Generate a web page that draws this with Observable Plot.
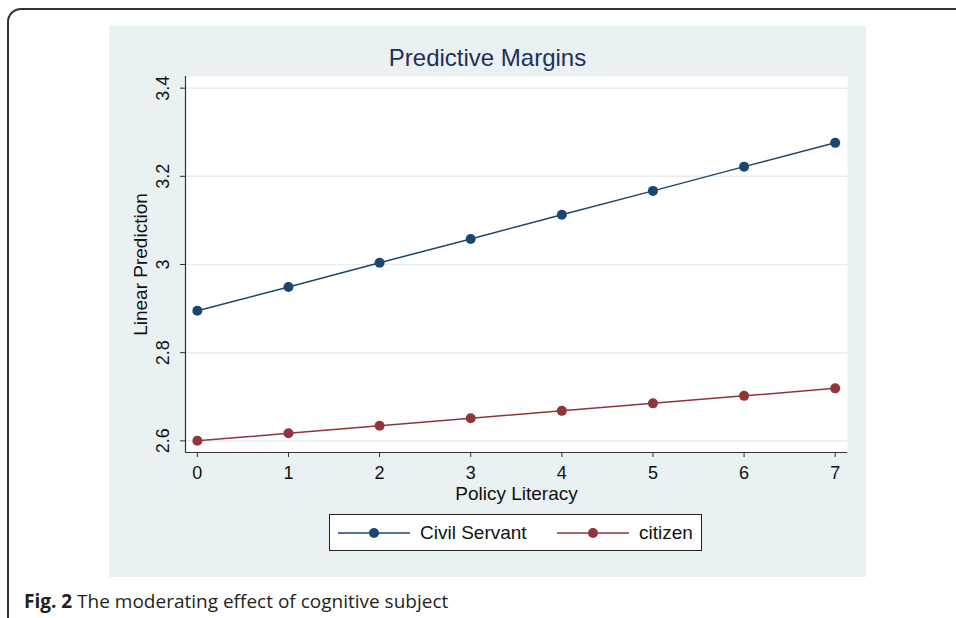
<!DOCTYPE html>
<html>
<head>
<meta charset="utf-8">
<script src="https://cdn.jsdelivr.net/npm/d3@7"></script>
<script src="https://cdn.jsdelivr.net/npm/@observablehq/plot@0.6"></script>
<style>
  html, body { margin: 0; padding: 0; background: #fff; width: 956px; height: 618px; overflow: hidden; }
  #frame { position: absolute; left: 7px; top: 8px; width: 1000px; height: 620px; border: 2px solid #333; border-radius: 14px; }
  #panel { position: absolute; left: 109px; top: 26px; width: 757px; height: 551px; background: #eaf1f3; }
  #title { position: absolute; left: 109px; width: 757px; top: 44px; text-align: center; font-family: "Liberation Sans", Arial, sans-serif; font-size: 24px; color: #1f2f5a; }
  #legend { position: absolute; left: 329px; top: 514px; width: 371px; height: 35px; background: #fff; border: 1px solid #222; font-family: "Liberation Sans", Arial, sans-serif; font-size: 19px; color: #111; }
  .item { position: absolute; top: 0; height: 35px; display: flex; align-items: center; }
  .item svg { margin-right: 10px; }
  #caption { position: absolute; left: 24px; top: 588px; line-height: 26px; font-family: "Open Sans", sans-serif; font-size: 19px; color: #231f20; white-space: nowrap; }
  #caption b { font-weight: 700; }
</style>
</head>
<body>
<div id="frame"></div>
<div id="panel"></div>
<div id="title"></div>
<div id="legend"></div>
<div id="caption"><b>Fig. 2</b> The moderating effect of cognitive subject</div>
<script>
// ---- data ----
const policyLiteracy = [0, 1, 2, 3, 4, 5, 6, 7];
const civilServant = [2.895, 2.949, 3.004, 3.058, 3.113, 3.167, 3.222, 3.276];
const citizen = [2.600, 2.617, 2.634, 2.651, 2.668, 2.685, 2.702, 2.719];
const seriesNames = ["Civil Servant", "citizen"];
const seriesColors = ["#1a476f", "#90353b"];
const xTicks = [0, 1, 2, 3, 4, 5, 6, 7];
const yTicks = [2.6, 2.8, 3.0, 3.2, 3.4];
const xDomain = [-0.13, 7.135];
const yDomain = [2.5735, 3.4265];
const titleText = "Predictive Margins";
const xLabel = "Policy Literacy";
const yLabel = "Linear Prediction";

const rows = [];
policyLiteracy.forEach((x, i) => {
  rows.push({x, y: civilServant[i], s: seriesNames[0]});
  rows.push({x, y: citizen[i], s: seriesNames[1]});
});

document.getElementById("title").textContent = titleText;

const font = "'Liberation Sans', Arial, sans-serif";
const chart = Plot.plot({
  width: 757,
  height: 551,
  marginLeft: 76,
  marginRight: 19,
  marginTop: 50,
  marginBottom: 125,
  style: {background: "transparent", fontFamily: font, color: "#111"},
  x: {domain: xDomain, axis: null},
  y: {domain: yDomain, axis: null},
  color: {domain: seriesNames, range: seriesColors},
  marks: [
    Plot.frame({fill: "white", stroke: null}),
    Plot.gridY(yTicks, {stroke: "#e6eef2", strokeOpacity: 1, strokeWidth: 1.5}),
    Plot.ruleX([xDomain[0]], {stroke: "#333", strokeWidth: 1.2}),
    Plot.ruleY([yDomain[0]], {stroke: "#333", strokeWidth: 1.2}),
    Plot.axisY(yTicks, {anchor: "left", tickSize: 5, tickFormat: () => "", label: null, stroke: "#333"}),
    Plot.text(yTicks, {y: d => d, frameAnchor: "left", rotate: -90, dx: -22.5, lineAnchor: "middle", textAnchor: "middle", text: d => d3.format("")(d), fontSize: 18, fill: "#111"}),
    Plot.axisX(xTicks, {anchor: "bottom", tickSize: 5, tickPadding: 9, fontSize: 18, label: null, stroke: "#333", fill: "#111"}),
    Plot.text([yLabel], {frameAnchor: "left", rotate: -90, dx: -45, lineAnchor: "middle", textAnchor: "middle", fontSize: 19, fill: "#111"}),
    Plot.text([xLabel], {frameAnchor: "bottom", dy: 47.5, lineAnchor: "bottom", textAnchor: "middle", fontSize: 19, fill: "#111"}),
    Plot.line(rows, {x: "x", y: "y", z: "s", stroke: "s", strokeWidth: 1.5}),
    Plot.dot(rows, {x: "x", y: "y", fill: "s", r: 5})
  ]
});
chart.style.position = "absolute";
chart.style.left = "109px";
chart.style.top = "26px";
document.body.appendChild(chart);

// legend
const legend = document.getElementById("legend");
const itemX = [8, 227];
seriesNames.forEach((name, i) => {
  const div = document.createElement("div");
  div.className = "item";
  div.style.left = itemX[i] + "px";
  const ns = "http://www.w3.org/2000/svg";
  const svg = document.createElementNS(ns, "svg");
  svg.setAttribute("width", 72);
  svg.setAttribute("height", 12);
  const ln = document.createElementNS(ns, "line");
  ln.setAttribute("x1", 0); ln.setAttribute("x2", 72);
  ln.setAttribute("y1", 6); ln.setAttribute("y2", 6);
  ln.setAttribute("stroke", seriesColors[i]); ln.setAttribute("stroke-width", 1.5);
  const c = document.createElementNS(ns, "circle");
  c.setAttribute("cx", 36); c.setAttribute("cy", 6); c.setAttribute("r", 5);
  c.setAttribute("fill", seriesColors[i]);
  svg.appendChild(ln); svg.appendChild(c);
  const span = document.createElement("span");
  span.textContent = name;
  div.appendChild(svg); div.appendChild(span);
  legend.appendChild(div);
});
</script>
</body>
</html>
